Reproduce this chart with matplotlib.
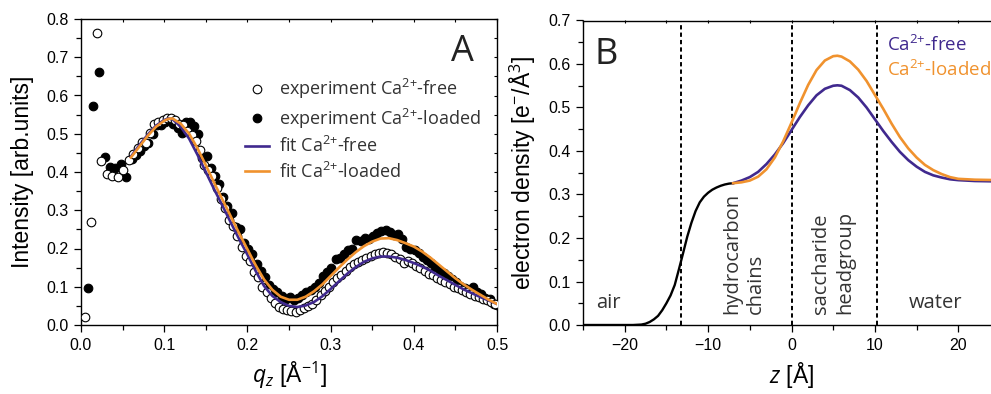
import matplotlib
matplotlib.use("Agg")
import matplotlib.pyplot as plt
from matplotlib.ticker import MultipleLocator
from matplotlib.lines import Line2D

plt.rcParams["font.family"] = "Liberation Sans"
plt.rcParams["mathtext.fontset"] = "custom"
plt.rcParams["mathtext.rm"] = "Open Sans"
plt.rcParams["mathtext.it"] = "Open Sans:italic"
plt.rcParams["mathtext.bf"] = "Open Sans:bold"

PURPLE = "#40298e"
ORANGE = "#f0922e"
CA = "Ca$^{2{+}}$"

# ---- panel A: reflectivity data ----
q_free = [0.005, 0.0115, 0.019, 0.0245, 0.031, 0.0375, 0.0445, 0.0505, 0.058,
          0.063, 0.068, 0.073, 0.078, 0.083, 0.088, 0.093, 0.098, 0.103, 0.108,
          0.113, 0.118, 0.123, 0.128, 0.133, 0.138, 0.143, 0.148, 0.153, 0.158,
          0.163, 0.168, 0.173, 0.178, 0.183, 0.188, 0.193, 0.198, 0.203, 0.208,
          0.213, 0.218, 0.223, 0.228, 0.233, 0.238, 0.243, 0.248, 0.253, 0.258,
          0.263, 0.268, 0.273, 0.278, 0.283, 0.288, 0.293, 0.298, 0.303, 0.308,
          0.313, 0.318, 0.323, 0.328, 0.333, 0.338, 0.343, 0.348, 0.353, 0.358,
          0.363, 0.368, 0.373, 0.378, 0.383, 0.388, 0.393, 0.398, 0.403, 0.408,
          0.413, 0.418, 0.423, 0.428, 0.433, 0.438, 0.443, 0.448, 0.453, 0.458,
          0.463, 0.468, 0.473, 0.478, 0.483, 0.488, 0.493, 0.498]
i_free = [0.022, 0.268, 0.763, 0.428, 0.394, 0.390, 0.388, 0.405, 0.431,
          0.448, 0.462, 0.478, 0.475, 0.503, 0.525, 0.530, 0.535, 0.541, 0.540,
          0.535, 0.525, 0.522, 0.508, 0.497, 0.480, 0.458, 0.418, 0.405, 0.390,
          0.358, 0.330, 0.305, 0.275, 0.260, 0.232, 0.205, 0.180, 0.168, 0.138,
          0.125, 0.100, 0.085, 0.070, 0.058, 0.048, 0.042, 0.038, 0.036, 0.035,
          0.038, 0.045, 0.050, 0.055, 0.065, 0.078, 0.088, 0.100, 0.112, 0.122,
          0.132, 0.142, 0.152, 0.160, 0.166, 0.170, 0.175, 0.180, 0.185, 0.188,
          0.190, 0.187, 0.185, 0.178, 0.172, 0.162, 0.168, 0.163, 0.155, 0.150,
          0.140, 0.134, 0.130, 0.124, 0.118, 0.112, 0.106, 0.100, 0.097, 0.092,
          0.087, 0.082, 0.077, 0.072, 0.068, 0.066, 0.060, 0.056]

q_loaded = [0.0085, 0.0148, 0.0216, 0.0284, 0.035, 0.0405, 0.0477, 0.0545,
            0.061, 0.066, 0.071, 0.076, 0.081, 0.086, 0.091, 0.096, 0.101,
            0.106, 0.111, 0.116, 0.121, 0.126, 0.131, 0.136, 0.141, 0.146,
            0.151, 0.156, 0.161, 0.166, 0.171, 0.176, 0.181, 0.186, 0.191,
            0.196, 0.201, 0.206, 0.211, 0.216, 0.221, 0.226, 0.231, 0.236,
            0.241, 0.246, 0.251, 0.256, 0.261, 0.266, 0.271, 0.276, 0.281,
            0.286, 0.291, 0.296, 0.301, 0.306, 0.311, 0.316, 0.321, 0.326,
            0.331, 0.336, 0.341, 0.346, 0.351, 0.356, 0.361, 0.366, 0.371,
            0.376, 0.381, 0.386, 0.391, 0.396, 0.401, 0.406, 0.411, 0.416,
            0.421, 0.426, 0.431, 0.436, 0.441, 0.446, 0.451, 0.456, 0.461,
            0.466, 0.471, 0.476, 0.481, 0.486, 0.491, 0.496, 0.500]
i_loaded = [0.096, 0.573, 0.662, 0.440, 0.414, 0.410, 0.420, 0.386,
            0.435, 0.445, 0.455, 0.468, 0.475, 0.500, 0.523, 0.522, 0.532,
            0.538, 0.526, 0.515, 0.503, 0.532, 0.530, 0.520, 0.500, 0.437,
            0.442, 0.410, 0.390, 0.368, 0.335, 0.310, 0.292, 0.255, 0.250,
            0.215, 0.200, 0.185, 0.160, 0.140, 0.125, 0.105, 0.095, 0.085,
            0.075, 0.068, 0.072, 0.065, 0.070, 0.078, 0.085, 0.092, 0.100,
            0.110, 0.128, 0.138, 0.150, 0.172, 0.175, 0.185, 0.195, 0.200,
            0.222, 0.220, 0.228, 0.225, 0.232, 0.240, 0.246, 0.248, 0.242,
            0.235, 0.238, 0.225, 0.205, 0.200, 0.196, 0.188, 0.178, 0.170,
            0.162, 0.150, 0.142, 0.135, 0.128, 0.120, 0.112, 0.103, 0.098,
            0.092, 0.100, 0.085, 0.080, 0.070, 0.068, 0.056, 0.052]

q_fit = [0.06, 0.07, 0.08, 0.09, 0.10, 0.105, 0.11, 0.12, 0.13, 0.14, 0.15,
         0.16, 0.17, 0.18, 0.19, 0.20, 0.21, 0.22, 0.23, 0.24, 0.25, 0.26,
         0.27, 0.28, 0.29, 0.30, 0.31, 0.32, 0.33, 0.34, 0.35, 0.36, 0.37,
         0.38, 0.39, 0.40, 0.41, 0.42, 0.43, 0.44, 0.45, 0.46, 0.47, 0.48,
         0.49, 0.50]
fit_free = [0.440, 0.470, 0.497, 0.521, 0.536, 0.540, 0.538, 0.518, 0.487,
            0.445, 0.400, 0.355, 0.312, 0.268, 0.225, 0.184, 0.141, 0.102,
            0.076, 0.060, 0.050, 0.047, 0.051, 0.060, 0.075, 0.094, 0.114,
            0.134, 0.151, 0.165, 0.174, 0.179, 0.179, 0.176, 0.170, 0.162,
            0.153, 0.142, 0.129, 0.117, 0.105, 0.093, 0.083, 0.073, 0.064,
            0.055]
fit_loaded = [0.438, 0.466, 0.494, 0.518, 0.534, 0.539, 0.540, 0.526, 0.500,
              0.462, 0.418, 0.372, 0.328, 0.284, 0.240, 0.198, 0.156, 0.119,
              0.092, 0.074, 0.066, 0.066, 0.074, 0.088, 0.106, 0.128, 0.150,
              0.171, 0.190, 0.206, 0.218, 0.226, 0.227, 0.222, 0.214, 0.205,
              0.192, 0.176, 0.158, 0.140, 0.122, 0.106, 0.092, 0.079, 0.066,
              0.055]

# ---- panel B: electron density profiles ----
z_air = [-25, -19, -18, -17.5, -17, -16.5, -16, -15.5, -15, -14.5, -14, -13.5,
         -13, -12.5, -12, -11.5, -11, -10.5, -10, -9.5, -9, -8.5, -8, -7.5, -7]
rho_air = [0.0, 0.0, 0.001, 0.003, 0.007, 0.013, 0.021, 0.034, 0.050, 0.068,
           0.092, 0.128, 0.165, 0.203, 0.235, 0.262, 0.282, 0.295, 0.304,
           0.311, 0.316, 0.320, 0.323, 0.325, 0.326]
z_head = [-7, -6, -5, -4, -3, -2, -1, 0, 1, 2, 3, 4, 5, 5.5, 6, 7, 8, 9, 10,
          11, 12, 13, 14, 15, 16, 17, 18, 19, 20, 22, 25]
rho_free = [0.326, 0.332, 0.340, 0.352, 0.370, 0.392, 0.418, 0.448, 0.478,
            0.505, 0.528, 0.543, 0.550, 0.551, 0.550, 0.540, 0.523, 0.500,
            0.473, 0.446, 0.421, 0.398, 0.379, 0.364, 0.352, 0.344, 0.339,
            0.335, 0.333, 0.331, 0.330]
rho_loaded = [0.326, 0.328, 0.332, 0.341, 0.358, 0.385, 0.422, 0.465, 0.510,
              0.552, 0.586, 0.608, 0.618, 0.619, 0.617, 0.606, 0.587, 0.561,
              0.529, 0.497, 0.463, 0.432, 0.406, 0.385, 0.368, 0.356, 0.347,
              0.340, 0.336, 0.334, 0.333]
z_bounds = [-13.3, 0.0, 10.2]

TICK_FS = 11.5
LABEL_FS = 16.5
TEXT_FS = 14.5


def style_axes(ax, xmaj, xmin, ymaj, ymin):
    ax.xaxis.set_major_locator(MultipleLocator(xmaj))
    ax.xaxis.set_minor_locator(MultipleLocator(xmin))
    ax.yaxis.set_major_locator(MultipleLocator(ymaj))
    ax.yaxis.set_minor_locator(MultipleLocator(ymin))
    ax.tick_params(which="both", direction="out", width=0.9,
                   labelsize=TICK_FS, top=False, right=False)
    ax.tick_params(which="major", length=5)
    ax.tick_params(which="minor", length=3.5)
    ax.tick_params(axis="x", pad=4)
    ax.tick_params(axis="y", pad=4)
    for s in ax.spines.values():
        s.set_linewidth(1.0)
    # inward ticks along the top edge
    top = ax.secondary_xaxis("top")
    top.xaxis.set_major_locator(MultipleLocator(xmin))
    top.tick_params(direction="in", length=2.5, width=0.8, labeltop=False)
    top.spines["top"].set_visible(False)
    return top


fig = plt.figure(figsize=(9.91, 3.94), dpi=100)

# panel A
axA = fig.add_axes([81 / 991, 69 / 394, 416 / 991, 306 / 394])
axA.plot(q_loaded, i_loaded, "o", ms=6.2, mfc="black", mec="black",
         mew=0.8, zorder=2)
axA.plot(q_free, i_free, "o", ms=6.2, mfc="white", mec="black",
         mew=0.8, zorder=3)
axA.plot(q_fit, fit_free, color=PURPLE, lw=1.9, zorder=4)
axA.plot(q_fit, fit_loaded, color=ORANGE, lw=1.9, zorder=5)
axA.set_xlim(0, 0.5)
axA.set_ylim(0, 0.8)
style_axes(axA, 0.1, 0.05, 0.1, 0.05)
ra = axA.secondary_yaxis("right")
ra.yaxis.set_major_locator(MultipleLocator(0.05))
ra.tick_params(direction="in", length=2.5, width=0.8, labelright=False)
ra.spines["right"].set_visible(False)
axA.set_ylabel("Intensity [arb.units]", fontsize=LABEL_FS)
axA.set_xlabel("$q_z$ [Å$^{-1}$]", fontsize=LABEL_FS)
axA.yaxis.set_label_coords(-0.112, 0.5)
axA.xaxis.set_label_coords(0.5, -0.115)
axA.text(0.458, 0.715, "A", fontsize=26, family="Open Sans",
         ha="center", va="center", color="#222222")

handles = [
    Line2D([], [], ls="none", marker="o", ms=6.2, mfc="white", mec="black", mew=0.8),
    Line2D([], [], ls="none", marker="o", ms=6.2, mfc="black", mec="black", mew=0.8),
    Line2D([], [], color=PURPLE, lw=1.9),
    Line2D([], [], color=ORANGE, lw=1.9),
]
labels = [f"experiment {CA}-free", f"experiment {CA}-loaded",
          f"fit {CA}-free", f"fit {CA}-loaded"]
axA.legend(handles, labels, loc="upper left", bbox_to_anchor=(0.395, 0.81),
           frameon=False, prop={"family": "Open Sans", "size": 13},
           handlelength=1.3, handletextpad=0.55, labelspacing=0.3,
           borderpad=0, borderaxespad=0, labelcolor="#333333")

# panel B
axB = fig.add_axes([583 / 991, 69 / 394, 417 / 991, 304.5 / 394])
axB.plot(z_air, rho_air, color="black", lw=1.7, zorder=3)
axB.plot(z_head, rho_free, color=PURPLE, lw=1.9, zorder=4)
axB.plot(z_head, rho_loaded, color=ORANGE, lw=1.9, zorder=5)
for zb in z_bounds:
    axB.axvline(zb, color="black", lw=1.4, ls=(0, (2.2, 1.6)), zorder=2)
axB.set_xlim(-25, 25)
axB.set_ylim(0, 0.7)
style_axes(axB, 10, 5, 0.1, 0.05)
axB.spines["right"].set_visible(False)
axB.set_ylabel("electron density [e$^{-}$/Å$^{3}$]", fontsize=LABEL_FS)
axB.set_xlabel("$z$ [Å]", fontsize=LABEL_FS)
axB.yaxis.set_label_coords(-0.108, 0.5)
axB.xaxis.set_label_coords(0.5, -0.115)
axB.text(-22.2, 0.62, "B", fontsize=26, family="Open Sans",
         ha="center", va="center", color="#222222")

txt = dict(family="Open Sans", fontsize=TEXT_FS, color="#333333")
axB.text(-22.0, 0.05, "air", ha="center", va="center", **txt)
axB.text(17.3, 0.05, "water", ha="center", va="center", **txt)
axB.text(-5.7, 0.025, "hydrocarbon\nchains", rotation=90, ha="center",
         va="bottom", multialignment="left", linespacing=1.25, **txt)
axB.text(5.0, 0.025, "saccharide\nheadgroup", rotation=90, ha="center",
         va="bottom", multialignment="left", linespacing=1.25, **txt)
axB.text(11.5, 0.644, f"{CA}-free", ha="left", va="center",
         family="Open Sans", fontsize=13.5, color=PURPLE)
axB.text(11.5, 0.587, f"{CA}-loaded", ha="left", va="center",
         family="Open Sans", fontsize=13.5, color=ORANGE)

fig.savefig("out.png", dpi=100)
